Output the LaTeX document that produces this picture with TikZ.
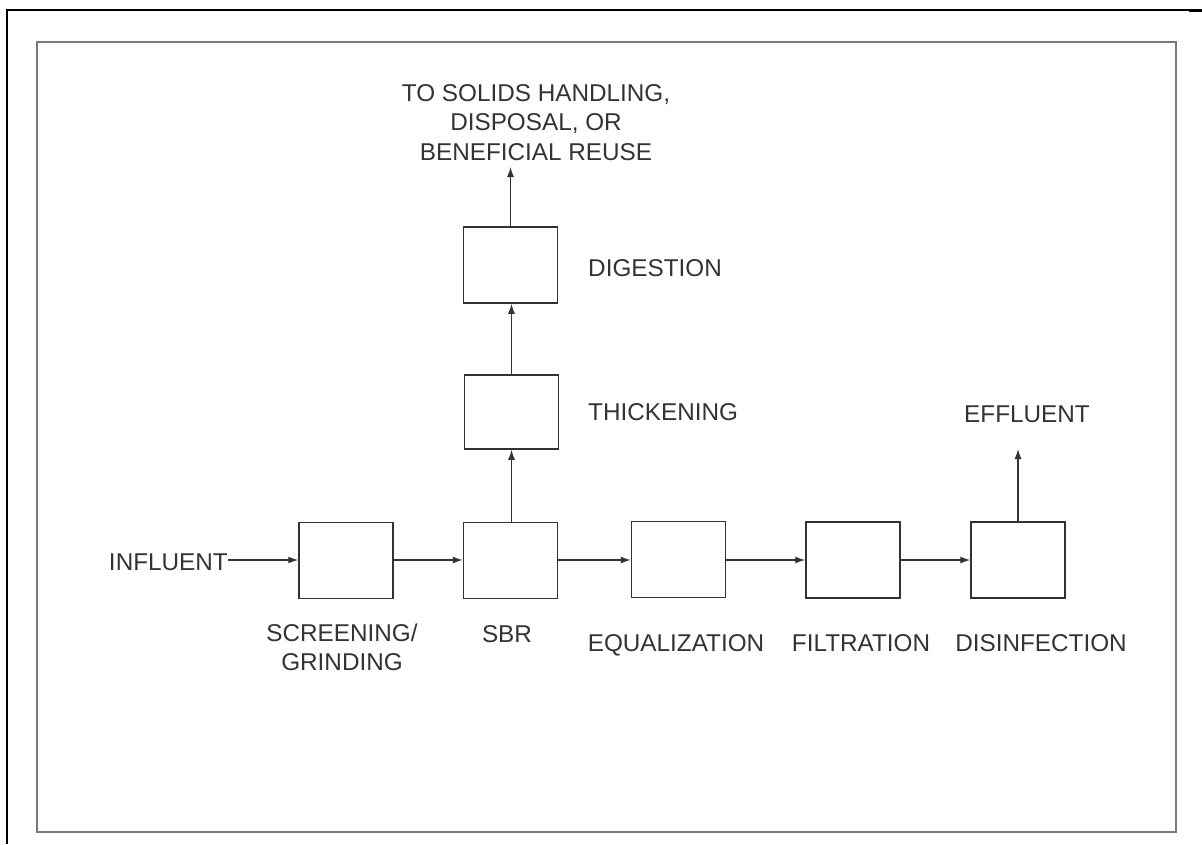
\documentclass[tikz,border=0pt]{standalone}
\usepackage{fontspec}
\setmainfont{Liberation Sans}
\usetikzlibrary{arrows.meta}
\definecolor{ink}{HTML}{333333}
\definecolor{frame}{HTML}{7A7A7A}
\begin{document}
\begin{tikzpicture}[x = 1pt, y = -1pt,
        unit/.style = {rectangle, draw = ink, line width = 1.5pt, fill = white, minimum width = 94pt, minimum height = 76pt, inner sep = 0pt},
        tag/.style = {text = ink, font = \fontsize{24.3}{29.5}\selectfont, inner sep = 0pt, align = center, anchor = base},
        flow/.style = {draw = ink, line width = 1.3pt, -{Latex[length = 10pt, width = 7pt]}}]
    \useasboundingbox (0, 0) rectangle (1202, 844);
    % page frame
    \draw[line width = 1.3pt] (7, 844) -- (7, 10) -- (1202, 10);
    \draw[line width = 2.5pt] (1189, 10.5) -- (1202, 10.5);
    \draw[frame, line width = 2pt] (37, 41.5) rectangle (1176, 832);

    % process units
    \node[unit] (screen) at (346, 560.5) {};
    \node[unit] (sbr) at (510.5, 560.5) {};
    \node[unit] (equal) at (678.5, 559.5) {};
    \node[unit] (filt) at (853, 560) {};
    \node[unit] (disinf) at (1018, 560) {};
    \node[unit, minimum height = 74pt] (thick) at (511.5, 412) {};
    \node[unit] (digest) at (510.5, 265) {};

    % labels (placed by baseline of last line)
    \node[tag, anchor = base east] (influent) at (228, 570) {INFLUENT};
    \node[tag] (screenlbl) at (342, 670.5) {SCREENING/\\GRINDING};
    \node[tag] (sbrlbl) at (507, 642) {SBR};
    \node[tag] (equallbl) at (676, 651) {EQUALIZATION};
    \node[tag] (filtlbl) at (861, 651) {FILTRATION};
    \node[tag] (disinflbl) at (1041, 651) {DISINFECTION};
    \node[tag, anchor = base west] (thicklbl) at (588, 420.5) {THICKENING};
    \node[tag, anchor = base west] (digestlbl) at (588, 276.5) {DIGESTION};
    \node[tag] (effluent) at (1027, 422.5) {EFFLUENT};
    \node[tag] (solids) at (536, 160) {TO SOLIDS HANDLING,\\DISPOSAL, OR\\BENEFICIAL REUSE};
    \coordinate (effout) at (1018, 449);
    \coordinate (solidsout) at (510.5, 167);

    % flows
    \draw[flow] (influent.east |- 0, 560) -- (screen.west |- 0, 560);
    \foreach \a/\b in {screen/sbr, sbr/equal, equal/filt, filt/disinf}
        \draw[flow] (\a.east |- 0, 560) -- (\b.west |- 0, 560);
    \draw[flow] (sbr.north -| thick) -- (thick.south);
    \draw[flow] (thick.north) -- (thick.north |- digest.south);
    \draw[flow] (digest.north) -- (solidsout);
    \draw[flow] (disinf.north) -- (effout);
\end{tikzpicture}
\end{document}
